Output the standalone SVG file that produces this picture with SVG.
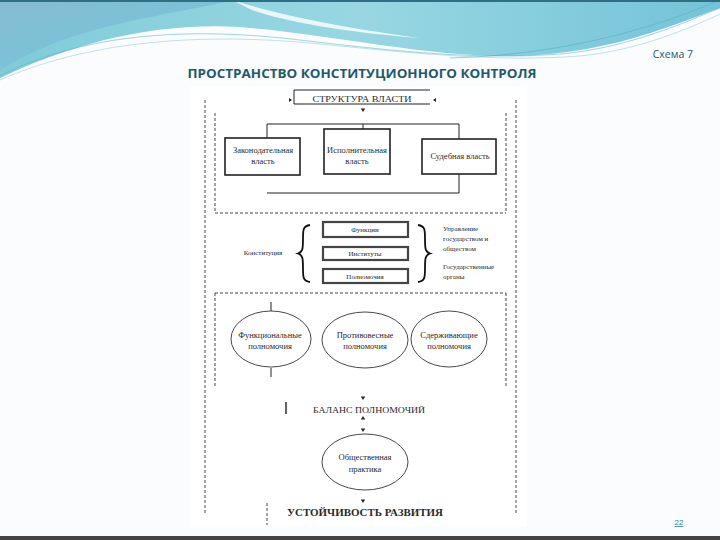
<svg xmlns="http://www.w3.org/2000/svg" xmlns:xlink="http://www.w3.org/1999/xlink" width="720" height="540" viewBox="0 0 720 540">
<defs>
<linearGradient id="gL" x1="0" y1="0" x2="1" y2="1">
<stop offset="0" stop-color="#86bcd3"/><stop offset="0.6" stop-color="#79c3d6"/><stop offset="1" stop-color="#4fd0dc"/>
</linearGradient>
<linearGradient id="gR" x1="0" y1="0" x2="1" y2="0">
<stop offset="0" stop-color="#80cbd9"/><stop offset="0.5" stop-color="#98d7e2"/><stop offset="1" stop-color="#74c3d8"/>
</linearGradient>
<path id="dn" d="M-2.2,-1.5 L2.2,-1.5 L0,2 Z" fill="#222"/>
<path id="up" d="M-2.2,1.5 L2.2,1.5 L0,-2 Z" fill="#222"/>
<style>
.t{font-family:"Liberation Serif","Times New Roman",serif;fill:#2a2a2a;text-anchor:middle}
.tl{font-family:"Liberation Serif","Times New Roman",serif;fill:#2a2a2a;text-anchor:start}
.ln{fill:none;stroke:#222;stroke-width:1}
.bx{fill:#fff;stroke:#222;stroke-width:1.6}
.dbx{fill:#fff;stroke:#444;stroke-width:2.2}
.ds{fill:none;stroke:#333;stroke-width:0.9;stroke-dasharray:3,2}
.el{fill:#fff;stroke:#333;stroke-width:0.9}
.br{fill:none;stroke:#111;stroke-width:1.8}
</style>
</defs>
<g id="background">
<rect width="720" height="540" fill="#fbfcfd"/>
<path d="M0,0 H720 V8 C660,30 610,52 520,56 C430,58 330,34 240,27 C150,22 70,45 0,78 Z" fill="url(#gR)"/>
<path d="M0,0 H235 C200,8 150,16 110,26 C60,38 25,55 0,70 Z" fill="url(#gL)"/>
<path d="M232,0 C270,12 330,26 420,38 C340,32 280,20 252,10 Z" fill="#ffffff" opacity="0.8"/>
<path d="M0,76 C90,30 200,28 300,40 C400,52 480,60 560,54 C630,48 690,20 720,8" fill="none" stroke="#5ab4c8" stroke-width="0.8" opacity="0.7"/>
<path d="M0,80 C100,36 220,34 320,44 C420,54 500,62 580,56 C640,50 690,28 720,14" fill="none" stroke="#7fc4d4" stroke-width="0.8" opacity="0.6"/>
<path d="M450,58 C560,55 650,30 720,0" fill="none" stroke="#4fb3c8" stroke-width="1" opacity="0.6"/>
<rect x="0" y="0" width="720" height="2" fill="#2f6f84"/>
<rect x="0" y="536" width="720" height="4" fill="#444"/>
<rect x="190" y="86" width="337" height="441" fill="#ffffff"/>
</g>
<g id="titles">
<text x="362" y="78" font-family="'Open Sans','Liberation Sans',sans-serif" font-weight="bold" font-size="12.5" fill="#1e5a6c" text-anchor="middle" textLength="349" lengthAdjust="spacingAndGlyphs">ПРОСТРАНСТВО КОНСТИТУЦИОННОГО КОНТРОЛЯ</text>
<text x="693" y="58" font-family="'Open Sans','Liberation Sans',sans-serif" font-size="10.5" fill="#1e5a6c" text-anchor="end">Схема 7</text>
<text x="679" y="525" font-family="'Liberation Sans',sans-serif" font-size="8" fill="#2f7f96" text-anchor="middle" text-decoration="underline">22</text>
</g>
<g id="frames">
<line class="ds" x1="205" y1="100" x2="205" y2="513"/>
<line class="ds" x1="516" y1="100" x2="516" y2="513"/>
<line class="ds" x1="215" y1="113" x2="215" y2="213"/>
<line class="ds" x1="506" y1="113" x2="506" y2="213"/>
<line class="ds" x1="215" y1="213" x2="506" y2="213"/>
<line class="ds" x1="215" y1="293" x2="506" y2="293"/>
<line class="ds" x1="215" y1="293" x2="215" y2="387"/>
<line class="ds" x1="506" y1="293" x2="506" y2="387"/>
<line class="ds" x1="267" y1="503" x2="267" y2="525"/>
</g>
<g id="connectors">
<use xlink:href="#dn" x="363" y="110"/>
<line class="ln" x1="267" y1="124" x2="459" y2="124"/>
<line class="ln" x1="267" y1="124" x2="267" y2="138"/>
<line class="ln" x1="363" y1="124" x2="363" y2="129"/>
<line class="ln" x1="459" y1="124" x2="459" y2="139"/>
<polyline class="ln" points="459,174 459,193 267,193"/>
<line class="ln" x1="271" y1="302" x2="271" y2="311"/>
<line class="ln" x1="271" y1="368" x2="271" y2="377"/>
<use xlink:href="#dn" x="363" y="398"/>
<line x1="286" y1="402" x2="286" y2="414" stroke="#222" stroke-width="1.4"/>
<use xlink:href="#up" x="363" y="418"/>
<use xlink:href="#dn" x="363" y="430"/>
<use xlink:href="#dn" x="363" y="501"/>
</g>
<g id="struktura">
<polyline class="ln" points="430,90 294,90 294,104 430,104" stroke-width="1.1"/>
<path d="M289,98 L292,100 L289,102 Z" fill="#222"/>
<path d="M436,98 L433,100 L436,102 Z" fill="#222"/>
<text class="t" x="362" y="102" font-size="8.5" textLength="99" lengthAdjust="spacingAndGlyphs">СТРУКТУРА ВЛАСТИ</text>
</g>
<g id="zakonodatelnaya">
<rect class="bx" x="225" y="138" width="75" height="37"/>
<text class="t" x="263" y="153" font-size="8.5">Законодательная</text>
<text class="t" x="263" y="164" font-size="8.5">власть</text>
</g>
<g id="ispolnitelnaya">
<rect class="bx" x="324" y="129" width="66" height="45"/>
<text class="t" x="357" y="153" font-size="8.5">Исполнительная</text>
<text class="t" x="357" y="164" font-size="8.5">власть</text>
</g>
<g id="sudebnaya">
<rect class="bx" x="422" y="139" width="74" height="35"/>
<text class="t" x="460" y="159" font-size="8.5">Судебная власть</text>
</g>
<g id="konstitutsiya">
<text class="t" x="263" y="255" font-size="7">Конституция</text>
<path class="br" d="M310,225 C303,226 303,230 303,238 C303,248 303,252 298,253.5 C303,255 303,259 303,269 C303,277 303,281 310,282"/>
</g>
<g id="funktsii">
<rect class="dbx" x="323" y="222" width="85" height="15"/>
<text class="t" x="365" y="232" font-size="7">Функции</text>
</g>
<g id="instituty">
<rect class="dbx" x="323" y="247" width="85" height="13"/>
<text class="t" x="365" y="256" font-size="7">Институты</text>
</g>
<g id="polnomochiya">
<rect class="dbx" x="323" y="269" width="85" height="14"/>
<text class="t" x="365" y="279" font-size="7">Полномочия</text>
</g>
<g id="upravlenie">
<path class="br" d="M418,225 C425,226 425,230 425,238 C425,248 425,252 430,253.5 C425,255 425,259 425,269 C425,277 425,281 418,282"/>
<text class="tl" x="443" y="231" font-size="7">Управление</text>
<text class="tl" x="443" y="241" font-size="7">государством и</text>
<text class="tl" x="443" y="251" font-size="7">обществом</text>
<text class="tl" x="443" y="269" font-size="7">Государственные</text>
<text class="tl" x="443" y="279" font-size="7">органы</text>
</g>
<g id="funktsionalnye">
<ellipse class="el" cx="271" cy="339" rx="40" ry="28"/>
<text class="t" x="270" y="338" font-size="8.5">Функциональные</text>
<text class="t" x="270" y="349" font-size="8.5">полномочия</text>
</g>
<g id="protivovesnye">
<ellipse class="el" cx="365" cy="340" rx="43" ry="28"/>
<text class="t" x="365" y="338" font-size="8.5">Противовесные</text>
<text class="t" x="365" y="349" font-size="8.5">полномочия</text>
</g>
<g id="sderzhivayushchie">
<ellipse class="el" cx="449" cy="339" rx="38" ry="28"/>
<text class="t" x="449" y="338" font-size="8.5">Сдерживающие</text>
<text class="t" x="449" y="349" font-size="8.5">полномочия</text>
</g>
<g id="balans">
<text class="t" x="369" y="413" font-size="8.5" textLength="112" lengthAdjust="spacingAndGlyphs">БАЛАНС ПОЛНОМОЧИЙ</text>
</g>
<g id="obshchestvennaya">
<ellipse class="el" cx="365" cy="462" rx="43" ry="28"/>
<text class="t" x="365" y="460" font-size="8.5">Общественная</text>
<text class="t" x="365" y="472" font-size="8.5">практика</text>
</g>
<g id="ustoychivost">
<text class="t" x="365" y="516" font-size="10" font-weight="bold" fill="#111" textLength="156" lengthAdjust="spacingAndGlyphs">УСТОЙЧИВОСТЬ РАЗВИТИЯ</text>
</g>
</svg>
